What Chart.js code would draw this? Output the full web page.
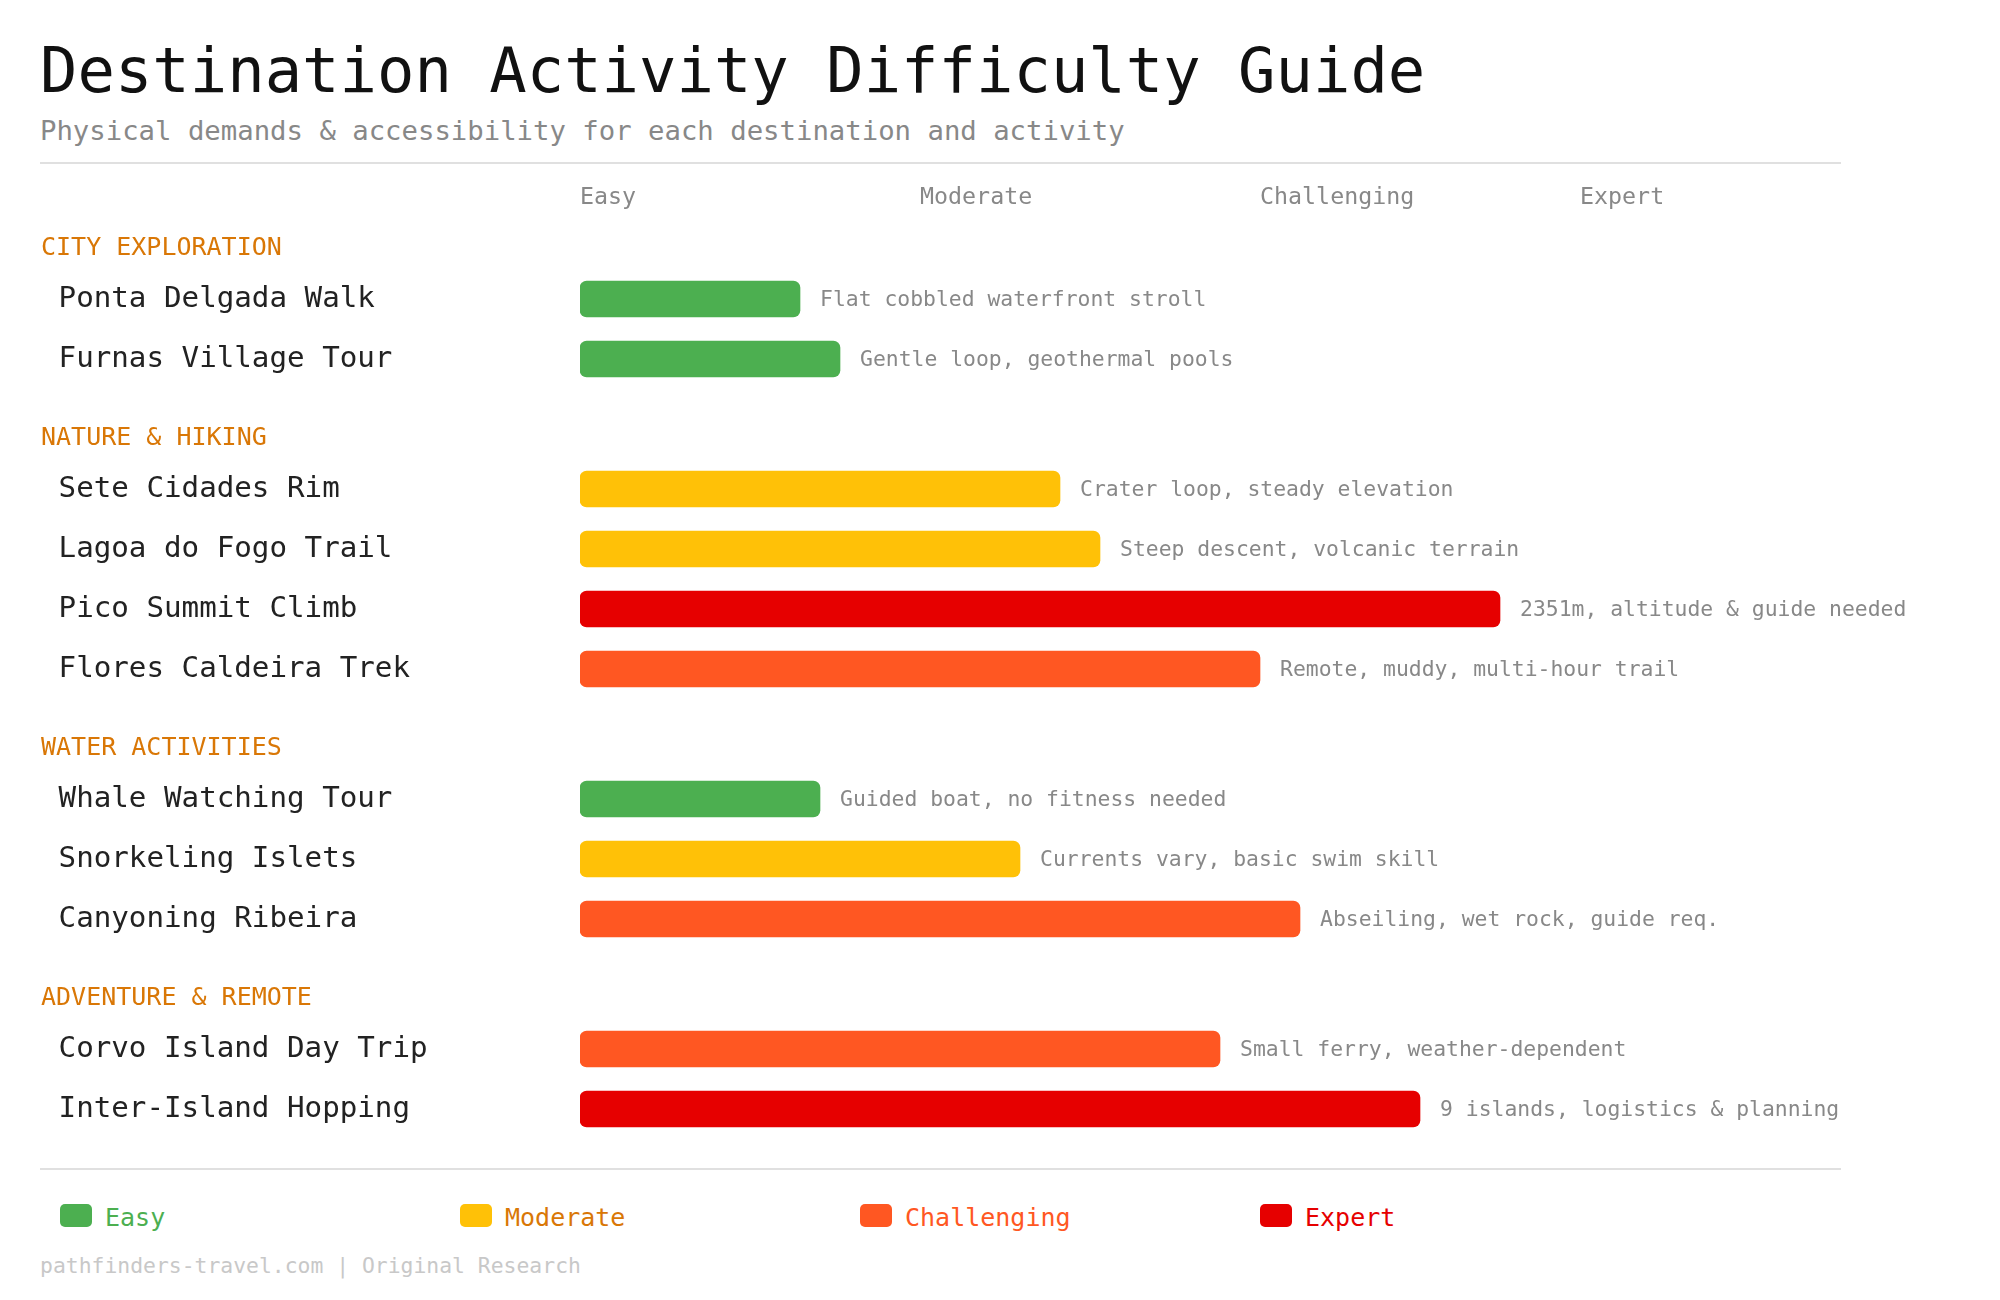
<!DOCTYPE html>
<html>
<head>
<meta charset="utf-8">
<title>Destination Activity Difficulty Guide</title>
<script src="https://cdn.jsdelivr.net/npm/chart.js@4.4.1/dist/chart.umd.min.js"></script>
<style>
  html, body { margin: 0; padding: 0; background: #fff; }
  body { width: 2000px; height: 1300px; position: relative; overflow: hidden;
    font-family: 'DejaVu Sans Mono', monospace; }
  .abs { position: absolute; white-space: pre; line-height: 1; }
  #title { left: 40px; top: 40px; font-size: 62.2px; color: #111; }
  #subtitle { left: 40px; top: 117px; font-size: 27.3px; color: #888; }
  .rule { position: absolute; left: 40px; width: 1801px; height: 2px; background: #e0e0e0; }
  #chartBox { position: absolute; left: 0; top: 170px; width: 2000px; height: 1010px; }
  .swatch { position: absolute; top: 1204px; width: 32px; height: 23px; border-radius: 5px; }
  .legendText { top: 1205px; font-size: 25px; }
  #footer { left: 40px; top: 1255px; font-size: 21.4px; color: #c8c8c8; }
</style>
</head>
<body>
<div id="title" class="abs">Destination Activity Difficulty Guide</div>
<div id="subtitle" class="abs">Physical demands &amp; accessibility for each destination and activity</div>
<div class="rule" style="top:162px"></div>
<div id="chartBox"><canvas id="difficultyChart"></canvas></div>
<div class="rule" style="top:1168px"></div>
<div id="legend"></div>
<div id="footer" class="abs">pathfinders-travel.com | Original Research</div>

<script>
const groups = ['CITY EXPLORATION', 'NATURE & HIKING', 'WATER ACTIVITIES', 'ADVENTURE & REMOTE'];
const activities = [
  'Ponta Delgada Walk', 'Furnas Village Tour',
  'Sete Cidades Rim', 'Lagoa do Fogo Trail', 'Pico Summit Climb', 'Flores Caldeira Trek',
  'Whale Watching Tour', 'Snorkeling Islets', 'Canyoning Ribeira',
  'Corvo Island Day Trip', 'Inter-Island Hopping',
];
const activityGroup = [0, 0, 1, 1, 1, 1, 2, 2, 2, 3, 3];
const difficulty = [2.2, 2.6, 4.8, 5.2, 9.2, 6.8, 2.4, 4.4, 7.2, 6.4, 8.4];
const levels = ['Easy', 'Easy', 'Moderate', 'Moderate', 'Expert', 'Challenging',
  'Easy', 'Moderate', 'Challenging', 'Challenging', 'Expert'];
const notes = [
  'Flat cobbled waterfront stroll', 'Gentle loop, geothermal pools',
  'Crater loop, steady elevation', 'Steep descent, volcanic terrain',
  '2351m, altitude & guide needed', 'Remote, muddy, multi-hour trail',
  'Guided boat, no fitness needed', 'Currents vary, basic swim skill',
  'Abseiling, wet rock, guide req.',
  'Small ferry, weather-dependent', '9 islands, logistics & planning',
];
const levelNames = ['Easy', 'Moderate', 'Challenging', 'Expert'];
const levelTicks = [0, 3.4, 6.8, 10];

const FONT = "'DejaVu Sans Mono', monospace";
const barColors = { Easy: '#4caf50', Moderate: '#ffc107', Challenging: '#ff5722', Expert: '#e60000' };
const textColors = { Easy: '#4caf50', Moderate: '#d97706', Challenging: '#ff5722', Expert: '#e60000' };

// row layout: group header, then its activities (y in px-like units)
const rows = [];
let pos = 0;
groups.forEach((g, gi) => {
  if (gi > 0) pos += 79;
  rows.push({ label: g, pos, group: true });
  let first = true;
  activities.forEach((a, i) => {
    if (activityGroup[i] !== gi) return;
    pos += first ? 51 : 60;
    first = false;
    rows.push({ label: ' ' + a, pos, group: false });
  });
});
const activityPos = rows.filter((r) => !r.group).map((r) => r.pos);

// html legend
const legendEl = document.getElementById('legend');
levelNames.forEach((name, i) => {
  const left = 60 + i * 400;
  legendEl.insertAdjacentHTML('beforeend',
    `<div class="swatch" style="left:${left}px;background:${barColors[name]}"></div>` +
    `<div class="abs legendText" style="left:${left + 45}px;color:${textColors[name]}">${name}</div>`);
});

const noteLabels = {
  id: 'noteLabels',
  afterDatasetsDraw(chart) {
    const ctx = chart.ctx;
    const meta = chart.getDatasetMeta(0);
    ctx.save();
    ctx.font = '21.4px ' + FONT;
    ctx.fillStyle = '#888';
    ctx.textAlign = 'left';
    ctx.textBaseline = 'middle';
    meta.data.forEach((bar, i) => {
      ctx.fillText(notes[i], bar.x + 20, bar.y + 1);
    });
    ctx.restore();
  },
};

Chart.defaults.font.family = FONT;

const ctx = document.getElementById('difficultyChart').getContext('2d');
new Chart(ctx, {
  type: 'bar',
  data: {
    datasets: [{
      data: difficulty.map((v, i) => ({ x: v, y: activityPos[i] })),
      backgroundColor: levels.map((l) => barColors[l]),
      barThickness: 36,
      borderRadius: 7,
      borderSkipped: false,
    }],
  },
  options: {
    indexAxis: 'y',
    responsive: true,
    maintainAspectRatio: false,
    animation: false,
    layout: { padding: { left: 41, right: 160, top: 0, bottom: 20 } },
    scales: {
      x: {
        type: 'linear',
        position: 'top',
        min: 0,
        max: 12.6,
        grid: { display: false, drawTicks: false },
        border: { display: false },
        afterBuildTicks: (scale) => { scale.ticks = levelTicks.map((v) => ({ value: v })); },
        afterFit: (scale) => { scale.height = 50; },
        ticks: {
          align: 'start',
          padding: 8,
          autoSkip: false,
          maxRotation: 0,
          color: '#888',
          font: { size: 23.3 },
          callback: (value, index) => levelNames[index],
        },
      },
      y: {
        type: 'linear',
        reverse: true,
        offset: false,
        min: -28,
        max: 912,
        grid: { display: false, drawTicks: false },
        border: { display: false },
        afterBuildTicks: (scale) => { scale.ticks = rows.map((r) => ({ value: r.pos })); },
        afterFit: (scale) => { scale.width = 539; },
        ticks: {
          crossAlign: 'far',
          padding: 0,
          autoSkip: false,
          color: (c) => (rows[c.index] && rows[c.index].group ? '#d97706' : '#222'),
          font: (c) => ({ size: rows[c.index] && rows[c.index].group ? 25 : 29.2 }),
          callback: (value, index) => rows[index].label,
        },
      },
    },
    plugins: {
      legend: { display: false },
      tooltip: { enabled: false },
    },
  },
  plugins: [noteLabels],
});
</script>
</body>
</html>
